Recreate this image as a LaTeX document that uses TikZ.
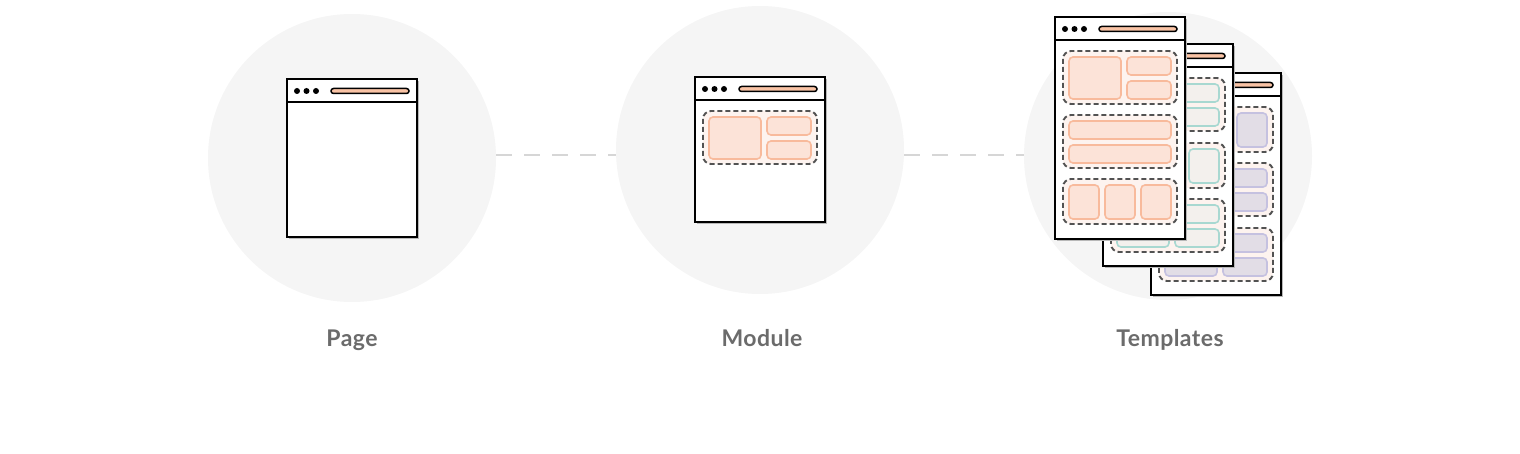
\documentclass[tikz,border=0pt]{standalone}
\usepackage{fontspec}
\setsansfont{Lato}[LetterSpace=2]

\definecolor{ringgrey}{HTML}{F5F5F5}
\definecolor{linkgrey}{HTML}{D6D6D6}
\definecolor{labelgrey}{HTML}{6B6B6B}
\definecolor{barpeach}{HTML}{F9C3A5}
\definecolor{modfill}{HTML}{FDF3EF}
\definecolor{peach}{HTML}{FCE3D8}
\definecolor{peachline}{HTML}{F8BA9C}
\definecolor{mint}{HTML}{F3F0ED}
\definecolor{mintline}{HTML}{A8D8D1}
\definecolor{lilac}{HTML}{E2DDE6}
\definecolor{lilacline}{HTML}{C5C1E0}

\newcommand{\browser}[2]{%
  \begin{scope}[shift={#1}]
    \fill[shade] (2,2) rectangle (132,#2+2);
    \draw[frame] (0,0) rectangle (130,#2) (0,23) -- (130,23);
    \foreach \dx in {10,19.5,29} \fill (\dx,12) circle (3);
    \draw[urlbar] (44,9.5) rectangle (122,14.5);
  \end{scope}}
\newcommand{\modsplit}[2]{%
  \begin{scope}[shift={#1}]
    \draw[module] (0,0) rectangle (114,53);
    \draw[#2] (6,6) rectangle (58,48) (64,6) rectangle (108,24) (64,30) rectangle (108,48);
  \end{scope}}
\newcommand{\modbars}[2]{%
  \begin{scope}[shift={#1}]
    \draw[module] (0,0) rectangle (114,53);
    \draw[#2] (6,6) rectangle (108,24) (6,30) rectangle (108,48);
  \end{scope}}
\newcommand{\modtrio}[2]{%
  \begin{scope}[shift={#1}]
    \draw[module] (0,0) rectangle (114,45);
    \draw[#2] (6,6) rectangle (36,40) (42,6) rectangle (72,40) (78,6) rectangle (108,40);
  \end{scope}}
\newcommand{\modgrid}[2]{%
  \begin{scope}[shift={#1}]
    \draw[module] (0,0) rectangle (114,53);
    \draw[#2] (6,6) rectangle (58,24) (64,6) rectangle (108,24) (6,30) rectangle (58,48) (64,30) rectangle (108,48);
  \end{scope}}

\begin{document}
\begin{tikzpicture}[x=1pt,y=-1pt,
  stage/.style={circle,fill=ringgrey,minimum size=288pt,inner sep=0pt},
  link/.style={draw=linkgrey,line width=2pt,dash pattern=on 16pt off 12pt},
  caption/.style={anchor=base,inner sep=0pt,text=labelgrey,font=\sffamily\bfseries\fontsize{23}{27}\selectfont},
  frame/.style={draw=black,line width=2pt,fill=white},
  shade/.style={fill=black!28},
  urlbar/.style={draw=black,line width=1.5pt,fill=barpeach,rounded corners=2.5pt},
  module/.style={draw=black!68,line width=1.9pt,dash pattern=on 5pt off 3pt,fill=modfill,rounded corners=8pt},
  peachtile/.style={draw=peachline,fill=peach,line width=1.6pt,rounded corners=4pt},
  minttile/.style={draw=mintline,fill=mint,line width=1.6pt,rounded corners=4pt},
  lilactile/.style={draw=lilacline,fill=lilac,line width=1.6pt,rounded corners=4pt}]
  \useasboundingbox (0,0) rectangle (1520,454);

  \node[stage] (page) at (352,158) {};
  \node[stage] (module) at (760,150) {};
  \node[stage] (templates) at (1168,156) {};
  \coordinate (axis) at (0,155);
  \draw[link] (page.east |- axis) -- (module.west |- axis);
  \draw[link] (module.east |- axis) -- (templates.west |- axis);

  \browser{(287,79)}{158}

  \browser{(695,77)}{145}
  \modsplit{(703,111)}{peachtile}

  \browser{(1151,73)}{222}
  \modtrio{(1159,107)}{lilactile}
  \modbars{(1159,163)}{lilactile}
  \modgrid{(1159,228)}{lilactile}
  \browser{(1103,44)}{222}
  \modsplit{(1111,78)}{minttile}
  \modtrio{(1111,143)}{minttile}
  \modgrid{(1111,199)}{minttile}
  \browser{(1055,17)}{222}
  \modsplit{(1063,51)}{peachtile}
  \modbars{(1063,115)}{peachtile}
  \modtrio{(1063,179)}{peachtile}

  \node[caption] (pagelabel) at (352,346) {Page};
  \node[caption] (modulelabel) at (762,346) {Module};
  \node[caption] (templateslabel) at (1170,346) {Templates};
\end{tikzpicture}
\end{document}
